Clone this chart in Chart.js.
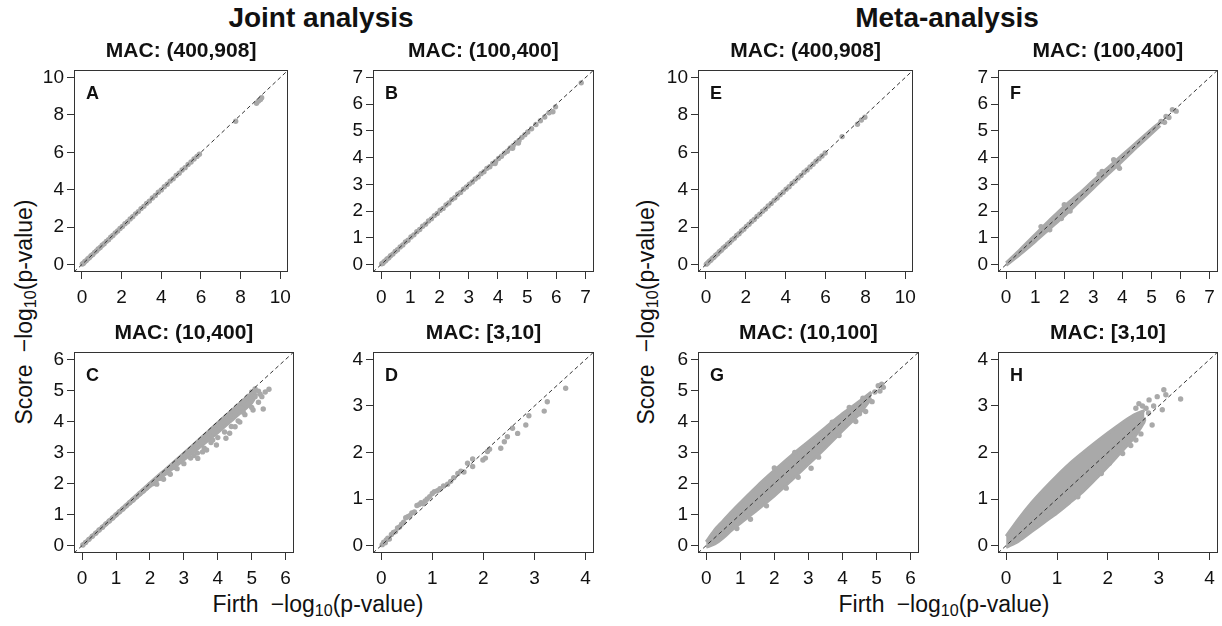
<!DOCTYPE html>
<html>
<head>
<meta charset="utf-8">
<script src="https://cdn.jsdelivr.net/npm/chart.js@4.4.1/dist/chart.umd.min.js"></script>
<style>
html, body { margin: 0; padding: 0; background: #fff; }
#fig { position: relative; width: 1222px; height: 626px; overflow: hidden;
       font-family: "Liberation Sans", Arial, Helvetica, sans-serif; color: #111; }
#fig canvas { position: absolute; }
.lbl { position: absolute; white-space: nowrap; transform: translate(-50%, -50%); }
.main { font-weight: bold; font-size: 28px; }
.axis { font-size: 23px; }
.rot { transform: translate(-50%, -50%) rotate(-90deg); }
sub { font-size: 70%; vertical-align: -0.3em; line-height: 0; }
</style>
</head>
<body>
<div id="fig">
  <div class="lbl main" style="left:321px; top:18px">Joint analysis</div>
  <div class="lbl main" style="left:947px; top:18px">Meta-analysis</div>
  <div class="lbl axis rot" style="left:24px; top:312px">Score &#8197;&minus;log<sub>10</sub>(p-value)</div>
  <div class="lbl axis rot" style="left:646px; top:312px">Score &#8197;&minus;log<sub>10</sub>(p-value)</div>
  <div class="lbl axis" style="left:318px; top:604px">Firth &#8197;&minus;log<sub>10</sub>(p-value)</div>
  <div class="lbl axis" style="left:944px; top:604px">Firth &#8197;&minus;log<sub>10</sub>(p-value)</div>
</div>

<script>
// tick labels
const ticks10 = [0, 2, 4, 6, 8, 10];
const ticks7 = [0, 1, 2, 3, 4, 5, 6, 7];
const ticks6 = [0, 1, 2, 3, 4, 5, 6];
const ticks4 = [0, 1, 2, 3, 4];

// panel titles
const macTitles = ['MAC: (400,908]', 'MAC: (100,400]', 'MAC: (10,400]', 'MAC: [3,10]',
                   'MAC: (400,908]', 'MAC: (100,400]', 'MAC: (10,100]', 'MAC: [3,10]'];

// [Firth, Score] pairs
const jointA = [[0.02,0.03],[0.08,0.07],[0.15,0.16],[0.22,0.21],[0.3,0.31],[0.38,0.37],[0.46,0.47],[0.55,0.54],
  [0.64,0.65],[0.73,0.72],[0.82,0.83],[0.92,0.91],[1.02,1.03],[1.12,1.11],[1.23,1.24],[1.34,1.33],[1.45,1.46],
  [1.56,1.55],[1.68,1.69],[1.8,1.79],[1.92,1.93],[2.04,2.03],[2.17,2.18],[2.3,2.29],[2.43,2.44],[2.56,2.55],
  [2.7,2.71],[2.84,2.83],[2.98,2.99],[3.12,3.11],[3.26,3.27],[3.4,3.39],[3.55,3.56],[3.7,3.69],[3.85,3.86],
  [4.0,3.99],[4.15,4.16],[4.3,4.29],[4.45,4.46],[4.6,4.58],[4.75,4.76],[4.9,4.88],[5.05,5.05],[5.2,5.18],
  [5.35,5.35],[5.5,5.48],[5.65,5.64],[5.8,5.78],[5.92,5.9],[7.75,7.66],[8.8,8.62],[8.9,8.74],[9.0,8.82],[9.06,8.92]];

const jointB = [[0.02,0.03],[0.06,0.05],[0.1,0.11],[0.15,0.14],[0.2,0.21],[0.26,0.25],[0.32,0.33],[0.4,0.39],
  [0.48,0.49],[0.56,0.55],[0.65,0.66],[0.74,0.73],[0.83,0.84],[0.92,0.91],[1.02,1.03],[1.12,1.11],[1.22,1.23],
  [1.32,1.31],[1.42,1.43],[1.52,1.51],[1.62,1.63],[1.72,1.71],[1.82,1.83],[1.92,1.91],[2.02,2.03],[2.12,2.1],
  [2.22,2.23],[2.32,2.3],[2.42,2.43],[2.52,2.5],[2.62,2.63],[2.72,2.7],[2.82,2.82],[2.92,2.9],[3.02,3.01],
  [3.12,3.09],[3.22,3.2],[3.32,3.28],[3.42,3.4],[3.52,3.47],[3.62,3.6],[3.72,3.66],[3.82,3.78],[3.92,3.86],
  [4.02,3.97],[4.12,4.05],[4.22,4.17],[4.32,4.24],[4.42,4.36],[4.52,4.45],[4.62,4.56],[4.72,4.64],[4.82,4.76],
  [4.92,4.86],[5.02,4.96],[5.15,5.08],[5.3,5.24],[5.45,5.38],[5.6,5.52],[5.75,5.68],[5.88,5.72],[5.97,5.9],
  [6.85,6.8],[4.5,4.35],[4.7,4.55],[3.9,3.78]];

// C: dense band just under the diagonal, then the lower streaks as single points
const jointCx = [0, 1, 2, 2.5, 3, 3.5, 4, 4.5, 5, 5.15];
const jointClow = [-0.03, 0.95, 1.9, 2.34, 2.76, 3.2, 3.64, 4.12, 4.6, 4.9];
const jointChigh = [0.03, 1.03, 2.02, 2.5, 2.98, 3.47, 3.96, 4.45, 4.93, 5.08];
const jointC = [[0.02,0.02],[0.1,0.1],[0.2,0.2],[0.3,0.3],[0.4,0.4],[0.5,0.5],[0.6,0.59],[0.7,0.7],[0.8,0.79],
  [0.9,0.89],[1.0,0.99],[1.1,1.09],[1.2,1.18],[1.3,1.28],[1.4,1.38],[1.5,1.47],[1.6,1.57],[1.7,1.67],[1.8,1.76],
  [1.9,1.86],[2.0,1.96],[5.0,4.95],[5.1,5.05],
  [2.1,2.0],[2.3,2.17],[2.5,2.35],[2.7,2.52],[2.9,2.72],[3.1,2.9],[3.3,3.08],[3.5,3.26],[3.7,3.45],[3.9,3.62],
  [4.1,3.82],[4.3,4.02],[4.5,4.22],[4.7,4.42],[4.9,4.6],[5.1,4.8],[5.25,4.88],
  [2.2,1.98],[2.4,2.14],[2.6,2.3],[2.8,2.48],[3.0,2.64],[3.2,2.82],[3.41,2.81],[3.4,2.98],[3.6,3.14],[3.67,3.08],
  [3.8,3.32],[3.96,3.24],[4.0,3.48],[4.24,3.46],[4.2,3.66],[4.4,3.84],[4.51,3.83],[4.6,4.02],[4.8,4.22],
  [5.04,4.37],[5.0,4.45],[5.2,4.62],[5.34,4.4],[5.3,4.8],[5.51,5.04],[5.4,4.95],[5.2,4.98],[3.3,2.9],[3.55,3.02],
  [3.85,3.4],[4.35,3.62],[4.65,3.98],[4.75,4.3]];

const jointD = [[0.02,0.02],[0.05,0.07],[0.08,0.06],[0.1,0.12],[0.13,0.16],[0.16,0.14],[0.2,0.24],[0.24,0.28],
  [0.28,0.3],[0.32,0.38],[0.36,0.4],[0.4,0.46],[0.44,0.5],[0.48,0.6],[0.52,0.62],[0.56,0.64],[0.6,0.7],[0.65,0.72],
  [0.7,0.86],[0.74,0.88],[0.78,0.92],[0.82,0.9],[0.86,0.96],[0.9,1.0],[0.95,1.05],[1.0,1.12],[1.04,1.16],
  [1.1,1.18],[1.15,1.22],[1.22,1.28],[1.3,1.32],[1.36,1.38],[1.42,1.46],[1.5,1.55],[1.56,1.6],[1.62,1.58],
  [1.69,1.77],[1.79,1.86],[1.79,1.7],[1.99,1.84],[2.04,1.88],[2.08,2.02],[2.12,2.07],[2.34,2.09],[2.41,2.23],
  [2.47,2.34],[2.57,2.52],[2.67,2.41],[2.83,2.59],[2.89,2.79],[3.19,2.89],[3.25,3.09],[3.61,3.38]];

const metaE = [[0.02,0.02],[0.09,0.08],[0.16,0.17],[0.24,0.23],[0.32,0.33],[0.4,0.39],[0.49,0.5],[0.58,0.57],
  [0.67,0.68],[0.77,0.76],[0.87,0.88],[0.97,0.96],[1.08,1.09],[1.19,1.18],[1.3,1.31],[1.42,1.41],[1.54,1.55],
  [1.66,1.65],[1.78,1.79],[1.9,1.89],[2.03,2.04],[2.16,2.15],[2.29,2.3],[2.42,2.41],[2.56,2.57],[2.7,2.69],
  [2.84,2.85],[2.98,2.97],[3.12,3.13],[3.27,3.26],[3.42,3.43],[3.57,3.56],[3.72,3.73],[3.87,3.86],[4.02,4.03],
  [4.17,4.16],[4.32,4.33],[4.47,4.46],[4.62,4.63],[4.77,4.76],[4.92,4.93],[5.07,5.06],[5.22,5.22],[5.37,5.36],
  [5.52,5.52],[5.67,5.66],[5.82,5.8],[5.98,5.96],[6.83,6.84],[7.6,7.5],[7.8,7.73],[7.97,7.87]];

// F: solid band along the diagonal plus a few stray points
const metaFx = [0, 0.5, 1, 1.5, 2, 2.5, 3, 3.5, 4, 4.5, 5, 5.3];
const metaFlow = [-0.03, 0.4, 0.86, 1.34, 1.82, 2.34, 2.86, 3.38, 3.88, 4.4, 4.9, 5.2];
const metaFhigh = [0.06, 0.58, 1.12, 1.66, 2.18, 2.64, 3.14, 3.62, 4.1, 4.58, 5.06, 5.32];
const metaF = [[1.2,1.42],[1.9,1.72],[2.0,2.24],[2.2,2.0],[3.2,3.38],[3.3,3.48],[3.9,3.6],[3.85,3.68],
  [3.7,3.92],[1.5,1.3],[5.33,5.35],[5.45,5.32],[5.5,5.54],[5.6,5.5],[5.72,5.79],[5.85,5.74]];

// G and H are solid clouds: Firth grid with lower / upper Score edge, plus scattered points
const metaGx = [0, 0.25, 0.5, 0.75, 1, 1.5, 2, 2.5, 3, 3.5, 4, 4.5, 4.85];
const metaGlow = [-0.05, 0.05, 0.25, 0.5, 0.72, 1.15, 1.6, 2.1, 2.62, 3.15, 3.7, 4.25, 4.75];
const metaGhigh = [0.12, 0.5, 0.8, 1.1, 1.38, 1.92, 2.42, 2.9, 3.35, 3.8, 4.25, 4.65, 4.95];
const metaG = [[3.08,2.49],[1.77,1.28],[2.35,1.85],[4.68,4.32],[4.87,4.64],[4.39,4.0],[4.95,4.95],[5.05,5.15],
  [5.15,5.2],[5.2,5.1],[5.1,4.98],[4.6,4.75],[4.2,4.45],[3.7,3.98],[4.5,4.25],[3.9,3.55],[3.3,2.85],[2.7,2.2],
  [1.3,0.85],[0.9,0.55],[2.0,2.5],[2.6,3.0]];

const metaHx = [0, 0.25, 0.5, 0.75, 1.0, 1.25, 1.5, 1.75, 2.0, 2.25, 2.5, 2.72];
const metaHlow = [-0.04, 0.1, 0.3, 0.5, 0.7, 0.92, 1.15, 1.42, 1.7, 2.0, 2.3, 2.66];
const metaHhigh = [0.2, 0.58, 0.92, 1.22, 1.5, 1.76, 1.99, 2.21, 2.42, 2.62, 2.8, 2.9];
const metaH = [[3.43,3.15],[3.07,2.92],[2.87,2.59],[3.14,3.24],[3.1,3.35],[2.97,3.2],[2.81,3.13],[2.61,3.05],
  [2.75,2.95],[2.9,3.0],[2.55,2.27],[2.29,1.98],[2.03,1.77],[1.87,1.55],[1.41,1.05],[0.99,0.8],[2.65,2.4],
  [2.45,2.15],[2.7,2.7],[2.8,2.85],[2.68,3.0],[2.55,2.95]];

const FONT = '"Liberation Sans", Arial, Helvetica, sans-serif';
const GREY = '#a9a9a9';
const PAD = { l: 62, r: 3, t: 40, b: 46 };

const panels = [
  { letter: 'A', title: macTitles[0], ticks: ticks10, pts: jointA, box: [74, 70, 295, 272] },
  { letter: 'B', title: macTitles[1], ticks: ticks7, pts: jointB, box: [373, 70, 595, 272] },
  { letter: 'C', title: macTitles[2], ticks: ticks6, pts: jointC, box: [74, 352, 295, 553],
    cloud: [jointCx, jointClow, jointChigh] },
  { letter: 'D', title: macTitles[3], ticks: ticks4, pts: jointD, box: [373, 352, 595, 553] },
  { letter: 'E', title: macTitles[4], ticks: ticks10, pts: metaE, box: [698, 70, 920, 272] },
  { letter: 'F', title: macTitles[5], ticks: ticks7, pts: metaF, box: [998, 70, 1219, 272],
    cloud: [metaFx, metaFlow, metaFhigh] },
  { letter: 'G', title: macTitles[6], ticks: ticks6, pts: metaG, box: [698, 352, 920, 553],
    cloud: [metaGx, metaGlow, metaGhigh] },
  { letter: 'H', title: macTitles[7], ticks: ticks4, pts: metaH, box: [998, 352, 1219, 553],
    cloud: [metaHx, metaHlow, metaHhigh] }
];

// box, panel letter and MAC title
const frame = {
  id: 'frame',
  afterDatasetsDraw(chart, args, opts) {
    const { ctx, chartArea: a } = chart;
    ctx.save();
    ctx.strokeStyle = '#333';
    ctx.lineWidth = 1;
    ctx.strokeRect(Math.round(a.left) + 0.5, Math.round(a.top) + 0.5,
                   Math.round(a.right - a.left) - 1, Math.round(a.bottom - a.top) - 1);
    ctx.fillStyle = '#111';
    ctx.font = 'bold 18px ' + FONT;
    ctx.textAlign = 'left';
    ctx.textBaseline = 'alphabetic';
    ctx.fillText(opts.letter, a.left + 12, a.top + 29);
    ctx.font = 'bold 21px ' + FONT;
    ctx.textAlign = 'center';
    ctx.textBaseline = 'middle';
    ctx.fillText(opts.title, (a.left + a.right) / 2, a.top - 19);
    ctx.restore();
  }
};

function axisOpts(p, lo, hi, horizontal) {
  return {
    type: 'linear', min: lo, max: hi,
    afterBuildTicks: s => { s.ticks = p.ticks.map(v => ({ value: v })); },
    afterFit: s => { if (horizontal) s.height = PAD.b; else s.width = PAD.l; },
    grid: { drawOnChartArea: false, drawTicks: true, tickLength: 7, color: '#333', lineWidth: 1 },
    border: { display: false },
    ticks: { font: { family: FONT, size: 19 }, color: '#111', padding: horizontal ? 7 : 3,
             maxRotation: 0, autoSkip: false }
  };
}

const fig = document.getElementById('fig');
panels.forEach(p => {
  const [l, t, r, b] = p.box;
  const cv = document.createElement('canvas');
  cv.width = r - l + PAD.l + PAD.r;
  cv.height = b - t + PAD.t + PAD.b;
  cv.style.left = (l - PAD.l) + 'px';
  cv.style.top = (t - PAD.t) + 'px';
  fig.appendChild(cv);

  const top = p.ticks[p.ticks.length - 1];
  const lo = -0.04 * top, hi = 1.04 * top;

  const datasets = [
    { type: 'line', data: [{ x: lo, y: lo }, { x: hi, y: hi }], borderColor: '#333', borderWidth: 1,
      borderDash: [4, 3], pointRadius: 0, fill: false },
    { type: 'scatter', data: p.pts.map(([x, y]) => ({ x, y })), backgroundColor: GREY,
      borderWidth: 0, pointRadius: 2.7 }
  ];
  if (p.cloud) {
    const [cx, clo, chi] = p.cloud;
    datasets.push(
      { type: 'line', data: cx.map((x, i) => ({ x, y: clo[i] })), borderColor: GREY, borderWidth: 3,
        pointRadius: 0, tension: 0.3, fill: false },
      { type: 'line', data: cx.map((x, i) => ({ x, y: chi[i] })), borderColor: GREY, borderWidth: 3,
        pointRadius: 0, tension: 0.3, fill: '-1', backgroundColor: GREY }
    );
  }

  new Chart(cv, {
    type: 'scatter',
    data: { datasets },
    options: {
      responsive: false,
      animation: false,
      events: [],
      layout: { autoPadding: false, padding: { left: 0, right: PAD.r, top: PAD.t, bottom: 0 } },
      scales: { x: axisOpts(p, lo, hi, true), y: axisOpts(p, lo, hi, false) },
      plugins: {
        legend: { display: false },
        tooltip: { enabled: false },
        frame: { letter: p.letter, title: p.title }
      }
    },
    plugins: [frame]
  });
});
</script>
</body>
</html>
